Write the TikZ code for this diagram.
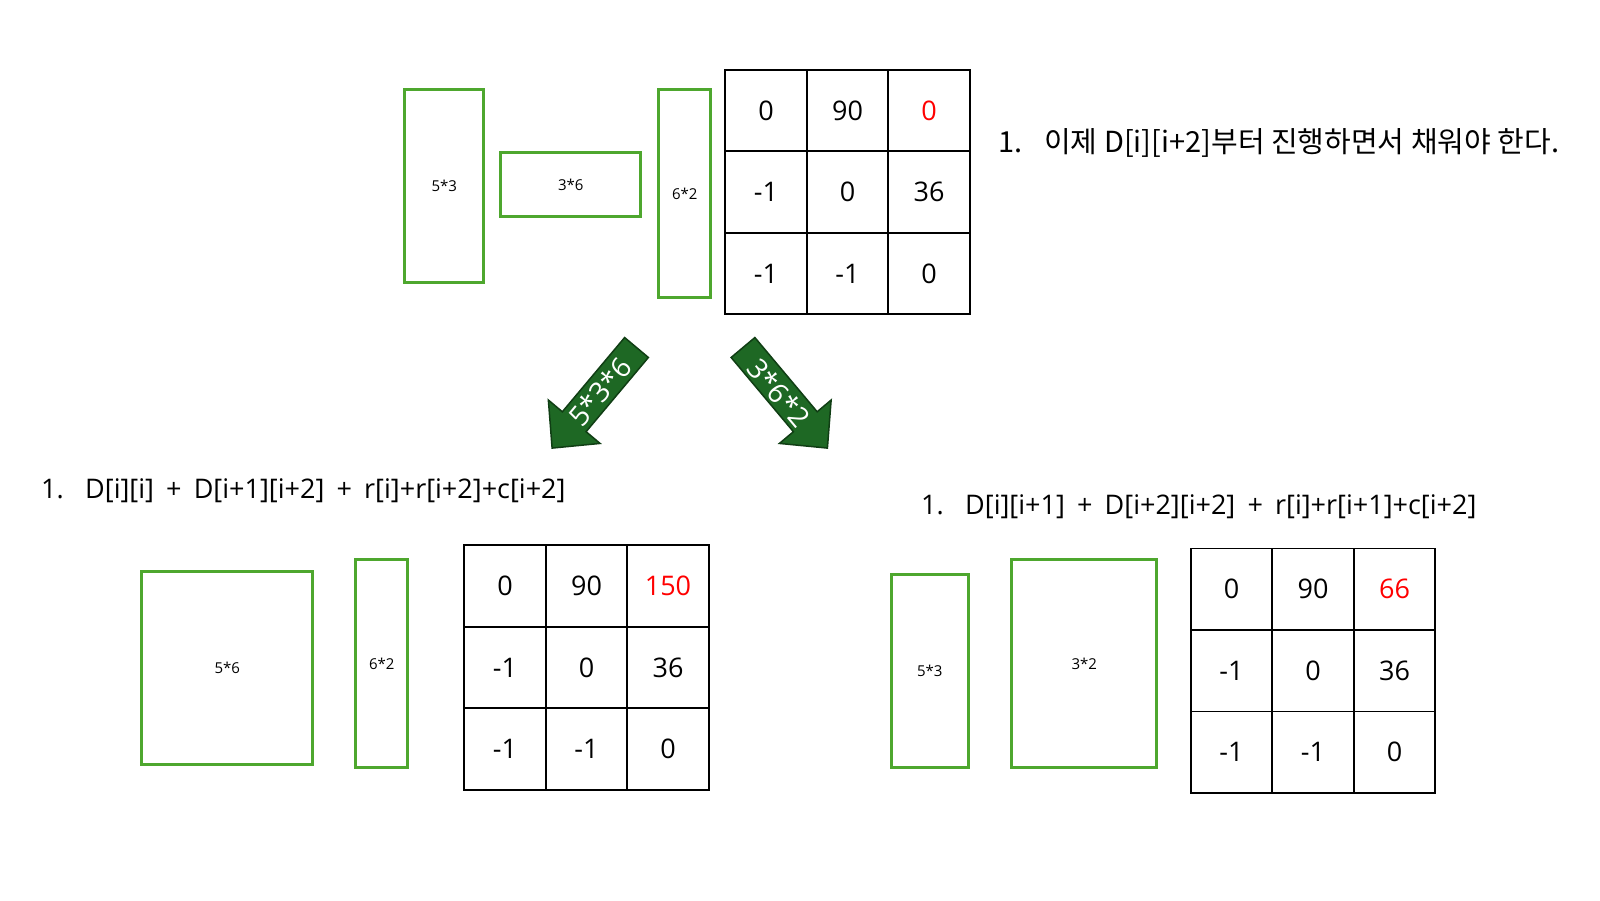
\documentclass[tikz,border=0pt]{standalone}
\usepackage{fontspec}
\setmainfont{Open Sans}
\newfontfamily\krfont{Noto Sans CJK KR}
\usetikzlibrary{positioning,matrix}

\definecolor{boxgreen}{RGB}{78,167,46}
\definecolor{arrowgreen}{RGB}{30,104,36}
\definecolor{arrowedge}{RGB}{16,62,20}

\newcommand{\plusgap}{\hspace{0.45em}+\hspace{0.45em}}

\begin{document}
\begin{tikzpicture}[
  x=1pt, y=-1pt,
  dim/.style={
    draw=boxgreen,
    line width=3pt,
    inner sep=0pt,
    font=\fontsize{15}{18}\selectfont
  },
  cell/.style={
    draw=black,
    line width=1.6pt,
    minimum size=81.5pt,
    inner sep=0pt,
    font=\fontsize{27}{32}\selectfont
  },
  dptable/.style={
    matrix of nodes,
    inner sep=0pt,
    column sep=-1.6pt,
    row sep=-1.6pt,
    nodes={cell}
  },
  filled/.style={text=red},
  recur/.style={
    anchor=west,
    inner sep=0pt,
    font=\fontsize{27}{32}\selectfont
  },
  costarrow/.style={
    draw=arrowedge,
    fill=arrowgreen,
    line width=1.5pt,
    line join=miter
  },
  costlabel/.style={
    text=white,
    inner sep=0pt,
    font=\fontsize{28}{30}\selectfont
  }
]
\useasboundingbox (0,0) rectangle (1600,900);

% Table before filling D[i][i+2].
\matrix[dptable] (dtop) at (847.5,192) {
  0  & 90 & |[filled]| 0 \\
  -1 & 0  & 36 \\
  -1 & -1 & 0  \\
};
\node[dim, minimum width=52pt, minimum height=208pt, left=12pt of dtop, yshift=-1.5pt] (top62) {6*2};
\node[dim, minimum width=140pt, minimum height=64pt, left=15pt of top62, yshift=9pt] (top36) {3*6};
\node[dim, minimum width=79pt, minimum height=193pt, left=14pt of top36, yshift=-1.5pt] (top53) {5*3};
\node[recur, font=\fontsize{29}{32}\selectfont] (ntop) at (998,143)
  {\krfont\makebox[46pt][l]{1.}이제 D[i][i+2]부터 진행하면서 채워야 한다.};

% The two ways of splitting the product.
\begin{scope}[shift={(636.5,347.5)}, rotate=230]
  \draw[costarrow] (0,-15.5) -- (96.9,-15.5) -- (96.9,-33.75) -- (131.3,0)
    -- (96.9,33.75) -- (96.9,15.5) -- (0,15.5) -- cycle;
\end{scope}
\begin{scope}[shift={(743,347.5)}, rotate=-50]
  \draw[costarrow] (0,-15.5) -- (96.9,-15.5) -- (96.9,-33.75) -- (131.3,0)
    -- (96.9,33.75) -- (96.9,15.5) -- (0,15.5) -- cycle;
\end{scope}
\node[costlabel, rotate=50] (splitleft) at (600,392) {5*3*6};
\node[costlabel, rotate=-50] (splitright) at (779,393) {3*6*2};

% Split after the first matrix.
\node[recur] (nleft) at (41,491)
  {\makebox[44pt][l]{1.}D[i][i]\plusgap D[i+1][i+2]\plusgap r[i]+r[i+2]+c[i+2]};
\matrix[dptable] (dleft) at (586.5,667.5) {
  0  & 90 & |[filled]| 150 \\
  -1 & 0  & 36 \\
  -1 & -1 & 0  \\
};
\node[dim, minimum width=52pt, minimum height=208pt, left=54pt of dleft, yshift=4pt] (left62) {6*2};
\node[dim, minimum width=171pt, minimum height=193pt, left=40pt of left62, yshift=-4.5pt] (left56) {5*6};

% Split after the second matrix.
\node[recur] (nright) at (921,507)
  {\makebox[44pt][l]{1.}D[i][i+1]\plusgap D[i+2][i+2]\plusgap r[i]+r[i+1]+c[i+2]};
\matrix[dptable] (dright) at (1313,670.8) {
  0  & 90 & |[filled]| 66 \\
  -1 & 0  & 36 \\
  -1 & -1 & 0  \\
};
\node[dim, minimum width=145pt, minimum height=208pt, left=31.5pt of dright, yshift=7pt] (right32) {3*2};
\node[dim, minimum width=77pt, minimum height=193pt, left=40.5pt of right32, yshift=-7.5pt] (right53) {5*3};

\end{tikzpicture}
\end{document}
